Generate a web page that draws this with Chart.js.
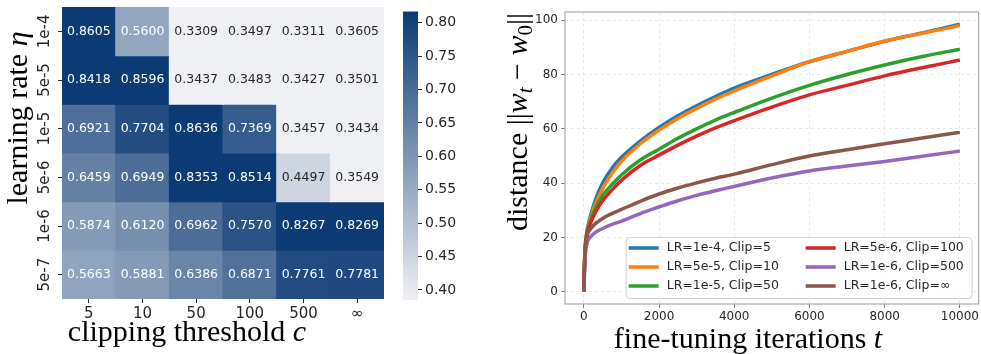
<!DOCTYPE html>
<html>
<head>
<meta charset="utf-8">
<script src="https://cdn.jsdelivr.net/npm/chart.js@4.4.1/dist/chart.umd.min.js"></script>
<style>
  body { margin: 0; background: #fff; }
  #wrap { position: relative; width: 981px; height: 354px; overflow: hidden; }
  canvas { position: absolute; top: 0; }
  #heatChart { left: 0; }
  #barChart { left: 400px; }
  #lineChart { left: 490px; }
</style>
</head>
<body>
<div id="wrap">
  <canvas id="heatChart" width="390" height="354"></canvas>
  <canvas id="barChart" width="75" height="354"></canvas>
  <canvas id="lineChart" width="491" height="354"></canvas>
</div>
<script>
// heatmap: rows = learning rate, columns = clipping threshold
const lrLabels = ["1e-4", "5e-5", "1e-5", "5e-6", "1e-6", "5e-7"];
const clipLabels = ["5", "10", "50", "100", "500", "∞"];
const acc1e4 = [0.8605, 0.5600, 0.3309, 0.3497, 0.3311, 0.3605];
const acc5e5 = [0.8418, 0.8596, 0.3437, 0.3483, 0.3427, 0.3501];
const acc1e5 = [0.6921, 0.7704, 0.8636, 0.7369, 0.3457, 0.3434];
const acc5e6 = [0.6459, 0.6949, 0.8353, 0.8514, 0.4497, 0.3549];
const acc1e6 = [0.5874, 0.6120, 0.6962, 0.7570, 0.8267, 0.8269];
const acc5e7 = [0.5663, 0.5881, 0.6386, 0.6871, 0.7761, 0.7781];
const heatRows = [acc1e4, acc5e5, acc1e5, acc5e6, acc1e6, acc5e7];

// colour bar range and ticks
const cbMin = 0.385;
const cbMax = 0.817;
const cbTicks = [0.40, 0.45, 0.50, 0.55, 0.60, 0.65, 0.70, 0.75, 0.80];

// distance curves
const iterSteps = [0, 25, 50, 100, 200, 300, 500, 750, 1000, 1500, 2000, 2500, 3000, 3500, 4000, 5000, 6000, 7000, 8000, 9000, 10000];
const distLr1e4 = [0, 13, 18.5, 23.5, 29, 33.5, 40, 45.5, 49.5, 55.5, 60.5, 64.8, 68.5, 71.9, 75, 80, 84.7, 88.5, 92.2, 95.3, 98.5];
const distLr5e5 = [0, 13, 18.5, 23, 28, 32, 38, 43.5, 48, 54.5, 59.5, 63.8, 67.5, 70.9, 74, 79.5, 84.7, 88.5, 92.3, 95.2, 98];
const distLr1e5 = [0, 13, 18.5, 22.5, 27, 30.5, 35.5, 39.5, 43, 48.5, 52.5, 56.5, 60, 63.2, 66, 71.3, 76, 80, 83.5, 86.6, 89.3];
const distLr5e6 = [0, 13, 18, 22, 26, 29, 33.5, 37.5, 41, 46.5, 50.3, 54, 57.3, 60.3, 63, 68, 72.5, 76, 79.5, 82.5, 85.3];
const distLr1e6c500 = [0, 10, 15, 18.5, 20.5, 21.8, 23.3, 24.8, 26, 28.8, 31.2, 33.5, 35.5, 37.2, 38.8, 41.9, 44.5, 46.3, 48, 49.9, 51.8];
const distLr1e6inf = [0, 12, 17.5, 21, 23.5, 25, 27, 28.8, 30.3, 33.3, 36, 38.2, 40.1, 41.8, 43.3, 46.8, 50, 52.3, 54.5, 56.6, 58.7];
const seriesLabels = ["LR=1e-4, Clip=5", "LR=5e-5, Clip=10", "LR=1e-5, Clip=50",
                      "LR=5e-6, Clip=100", "LR=1e-6, Clip=500", "LR=1e-6, Clip=∞"];
const seriesValues = [distLr1e4, distLr5e5, distLr1e5, distLr5e6, distLr1e6c500, distLr1e6inf];
const xTicks = [0, 2000, 4000, 6000, 8000, 10000];
const yTicks = [0, 20, 40, 60, 80, 100];

const lineColors = ["#1f77b4", "#ff7f0e", "#2ca02c", "#d62728", "#9467bd", "#8c564b"];
const sans = '"DejaVu Sans", sans-serif';
const serif = '"Liberation Serif", "Times New Roman", serif';
const lightRGB = [239, 240, 243];
const darkRGB = [11, 58, 116];

function heatRGB(v) {
  let t = (v - cbMin) / (cbMax - cbMin);
  t = Math.max(0, Math.min(1, t));
  return lightRGB.map((a, k) => Math.round(a + (darkRGB[k] - a) * t));
}
function heatColor(v) {
  return "rgb(" + heatRGB(v).join(",") + ")";
}
function isLight(v) {
  const lin = heatRGB(v).map((c) => {
    c = c / 255;
    return c <= 0.03928 ? c / 12.92 : Math.pow((c + 0.055) / 1.055, 2.4);
  });
  return 0.2126 * lin[0] + 0.7152 * lin[1] + 0.0722 * lin[2] > 0.408;
}

// text made of pieces with their own fonts (for the math bits)
function richText(c, parts, x, y, angle) {
  c.save();
  c.translate(x, y);
  c.rotate(angle);
  c.textAlign = "left";
  c.textBaseline = "alphabetic";
  c.fillStyle = "#000";
  let w = 0;
  parts.forEach((p) => { c.font = p.font; w += c.measureText(p.text).width; });
  let cx = -w / 2;
  parts.forEach((p) => {
    c.font = p.font;
    c.fillText(p.text, cx, p.dy || 0);
    cx += c.measureText(p.text).width;
  });
  c.restore();
}

const cellText = {
  id: "cellText",
  afterDatasetsDraw(chart) {
    const c = chart.ctx;
    c.save();
    c.font = "12.5px " + sans;
    c.textAlign = "center";
    c.textBaseline = "middle";
    chart.data.datasets.forEach((ds, i) => {
      chart.getDatasetMeta(i).data.forEach((bar, j) => {
        const v = heatRows[i][j];
        c.fillStyle = isLight(v) ? "#262626" : "#ffffff";
        c.fillText(v.toFixed(4), bar.x, (bar.y + bar.base) / 2);
      });
    });
    c.restore();
  },
};

const heatTitles = {
  id: "heatTitles",
  afterDraw(chart) {
    const c = chart.ctx;
    richText(c, [
      { text: "clipping threshold ", font: "30px " + serif },
      { text: "c", font: "italic 30px " + serif },
    ], 187, 341, 0);
    richText(c, [
      { text: "learning rate ", font: "30px " + serif },
      { text: "η", font: "italic 30px " + serif },
    ], 27, 118, -Math.PI / 2);
  },
};

new Chart(document.getElementById("heatChart"), {
  type: "bar",
  data: {
    labels: clipLabels,
    datasets: heatRows.map((row, i) => ({
      label: lrLabels[i],
      data: row.map(() => [5 - i, 6 - i]),
      backgroundColor: row.map(heatColor),
      borderWidth: 0,
      barPercentage: 1,
      categoryPercentage: 1,
      grouped: false,
      inflateAmount: 0.5,
    })),
  },
  options: {
    responsive: false,
    animation: false,
    layout: { padding: { top: 7, right: 6 } },
    plugins: { legend: { display: false }, tooltip: { enabled: false } },
    scales: {
      x: {
        ticks: { font: { family: sans, size: 15 }, color: "#262626", padding: 2 },
        grid: { drawOnChartArea: false, offset: false, tickLength: 4, tickColor: "#262626" },
        border: { display: false },
        afterFit: (s) => { s.height = 55; },
      },
      y: {
        type: "linear",
        min: 0,
        max: 6,
        afterBuildTicks: (s) => { s.ticks = lrLabels.map((_, i) => ({ value: 5.5 - i })); },
        ticks: {
          callback: (v) => lrLabels[Math.round(5.5 - v)],
          font: { family: sans, size: 15 },
          color: "#262626",
          minRotation: 90,
          maxRotation: 90,
          crossAlign: "center",
          padding: -4,
        },
        grid: { drawOnChartArea: false, tickLength: 4, tickColor: "#262626" },
        border: { display: false },
        afterFit: (s) => { s.width = 62; },
      },
    },
  },
  plugins: [cellText, heatTitles],
});

function cbGradient(context) {
  const { ctx, chartArea } = context.chart;
  if (!chartArea) return heatColor(cbMax);
  const g = ctx.createLinearGradient(0, chartArea.bottom, 0, chartArea.top);
  g.addColorStop(0, heatColor(cbMin));
  g.addColorStop(1, heatColor(cbMax));
  return g;
}

new Chart(document.getElementById("barChart"), {
  type: "bar",
  data: {
    labels: [""],
    datasets: [{
      data: [[cbMin, cbMax]],
      backgroundColor: cbGradient,
      borderWidth: 0,
      barPercentage: 1,
      categoryPercentage: 1,
    }],
  },
  options: {
    responsive: false,
    animation: false,
    layout: { padding: { left: 3, top: 8, bottom: 54 } },
    plugins: { legend: { display: false }, tooltip: { enabled: false } },
    scales: {
      x: { display: false },
      y: {
        position: "right",
        min: cbMin,
        max: cbMax,
        afterBuildTicks: (s) => { s.ticks = cbTicks.map((v) => ({ value: v })); },
        ticks: {
          callback: (v) => v.toFixed(2),
          font: { family: sans, size: 14 },
          color: "#262626",
          padding: 3,
        },
        grid: { drawOnChartArea: false, tickLength: 4, tickColor: "#262626" },
        border: { display: false },
        afterFit: (s) => { s.width = 57; },
      },
    },
  },
});

const lineExtras = {
  id: "lineExtras",
  afterDatasetsDraw(chart) {
    const c = chart.ctx;
    const a = chart.chartArea;
    const w = 346, h = 61;
    const left = a.right - 7 - w;
    const top = a.bottom - 6 - h;
    c.save();
    c.beginPath();
    c.roundRect(left + 0.5, top + 0.5, w, h, 4);
    c.fillStyle = "rgba(255,255,255,0.8)";
    c.fill();
    c.strokeStyle = "#d0d0d0";
    c.lineWidth = 1;
    c.stroke();
    c.font = "12.5px " + sans;
    c.textBaseline = "middle";
    c.textAlign = "left";
    chart.data.datasets.forEach((ds, i) => {
      const col = Math.floor(i / 3);
      const row = i % 3;
      const x = left + 3 + col * 177;
      const y = top + 11 + row * 19;
      c.strokeStyle = ds.borderColor;
      c.lineWidth = 3.5;
      c.beginPath();
      c.moveTo(x, y);
      c.lineTo(x + 30, y);
      c.stroke();
      c.fillStyle = "#262626";
      c.fillText(ds.label, x + 38, y);
    });
    c.restore();
  },
  afterDraw(chart) {
    const c = chart.ctx;
    const a = chart.chartArea;
    c.save();
    c.strokeStyle = "#a8a8a8";
    c.lineWidth = 1.2;
    c.strokeRect(a.left, a.top, a.right - a.left, a.bottom - a.top);
    c.restore();
    richText(c, [
      { text: "fine-tuning iterations ", font: "30px " + serif },
      { text: "t", font: "italic 30px " + serif },
    ], 258, 348, 0);
    richText(c, [
      { text: "distance ", font: "30px " + serif },
      { text: "||", font: "30px " + serif },
      { text: "w", font: "italic 30px " + serif },
      { text: "t", font: "italic 21px " + serif, dy: 5 },
      { text: " − ", font: "30px " + serif },
      { text: "w", font: "italic 30px " + serif },
      { text: "0", font: "21px " + serif, dy: 5 },
      { text: "||", font: "30px " + serif },
    ], 37, 122, -Math.PI / 2);
  },
};

new Chart(document.getElementById("lineChart"), {
  type: "line",
  data: {
    datasets: seriesLabels.map((label, i) => ({
      label: label,
      data: iterSteps.map((t, k) => ({ x: t, y: seriesValues[i][k] })),
      borderColor: lineColors[i],
      backgroundColor: lineColors[i],
      borderWidth: 3.5,
      pointRadius: 0,
      cubicInterpolationMode: "monotone",
      fill: false,
      order: seriesLabels.length - i,
    })),
  },
  options: {
    responsive: false,
    animation: false,
    layout: { padding: { top: 12, right: 1 } },
    plugins: { legend: { display: false }, tooltip: { enabled: false } },
    scales: {
      x: {
        type: "linear",
        min: -500,
        max: 10500,
        afterBuildTicks: (s) => { s.ticks = xTicks.map((v) => ({ value: v })); },
        ticks: {
          callback: (v) => String(v),
          font: { family: sans, size: 12 },
          color: "#262626",
          padding: 2,
          maxRotation: 0,
        },
        grid: { color: "#e2e2e2", lineWidth: 0.8, tickLength: 4, tickColor: "#555" },
        border: { display: false, dash: [3, 3] },
        afterFit: (s) => { s.height = 50; },
      },
      y: {
        min: -4.5,
        max: 103,
        afterBuildTicks: (s) => { s.ticks = yTicks.map((v) => ({ value: v })); },
        ticks: {
          callback: (v) => String(v),
          font: { family: sans, size: 12 },
          color: "#262626",
          padding: 3,
        },
        grid: { color: "#e2e2e2", lineWidth: 0.8, tickLength: 4, tickColor: "#555" },
        border: { display: false, dash: [3, 3] },
        afterFit: (s) => { s.width = 75; },
      },
    },
  },
  plugins: [lineExtras],
});
</script>
</body>
</html>
